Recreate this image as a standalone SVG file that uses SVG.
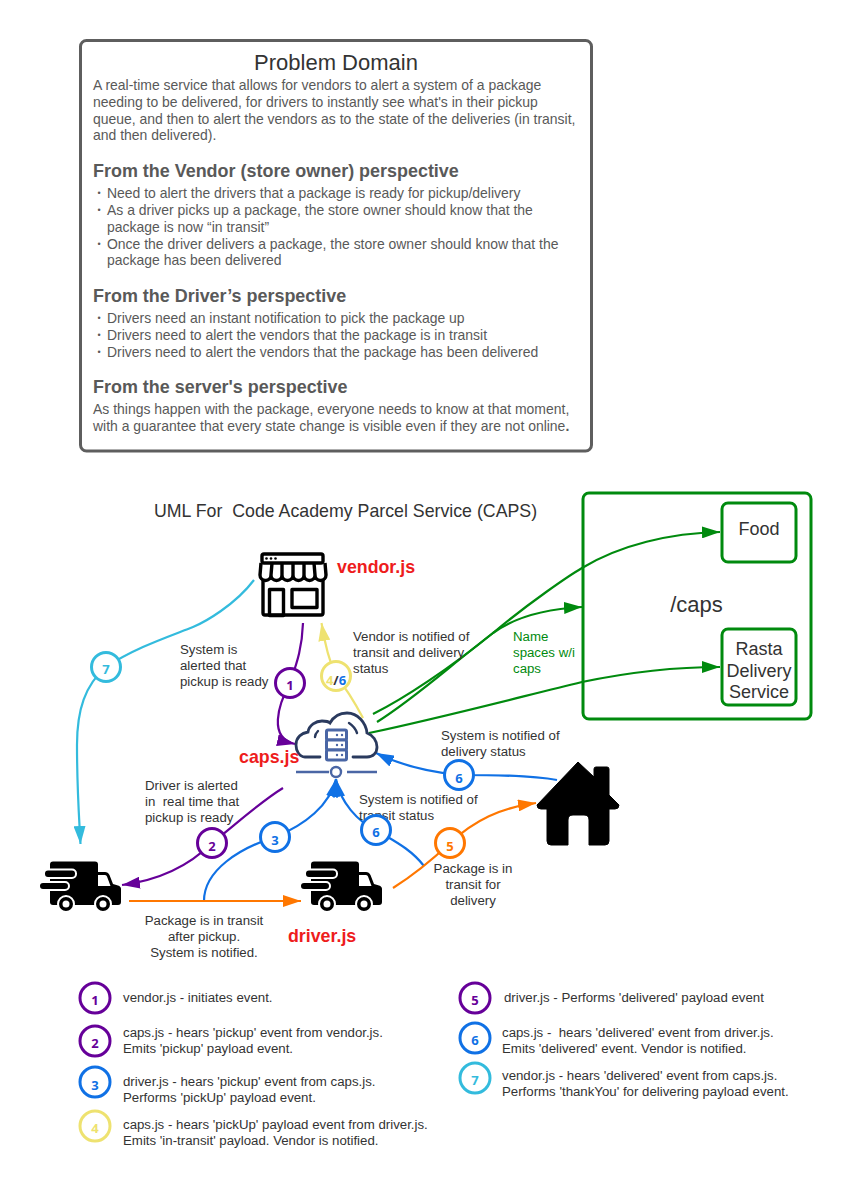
<svg xmlns="http://www.w3.org/2000/svg" width="851" height="1202" viewBox="0 0 851 1202">
<style>
text{font-family:"Liberation Sans",Arial,sans-serif;white-space:pre}
.b{font-size:13.96px;fill:#595959}
.d{font-size:9px;fill:#595959}
.h{font-size:17.95px;font-weight:bold;fill:#595959}
.l{font-size:13.25px;fill:#333}
.c{text-anchor:middle}
.r{font-size:17.8px;font-weight:bold;fill:#ee1c1c}
.n{font-family:"Open Sans","Liberation Sans",sans-serif;font-size:13px;font-weight:bold;text-anchor:middle}
.bd{fill:#fff;stroke-width:3}
.pu{stroke:#660099}.fpu{fill:#660099}
.bl{stroke:#1071e5}.fbl{fill:#1071e5}
.cy{stroke:#33bbdd}.fcy{fill:#33bbdd}
.ye{stroke:#eee270}.fye{fill:#eee270}
.or{stroke:#ff7700}.for{fill:#ff7700}
.gr{stroke:#008a0e}
</style>
<defs>
<marker id="apu" markerUnits="userSpaceOnUse" markerWidth="18" markerHeight="12" refX="18" refY="6" orient="auto"><path d="M0,0L18,6L0,12z" fill="#660099"/></marker>
<marker id="abl" markerUnits="userSpaceOnUse" markerWidth="18" markerHeight="12" refX="18" refY="6" orient="auto"><path d="M0,0L18,6L0,12z" fill="#1071e5"/></marker>
<marker id="acy" markerUnits="userSpaceOnUse" markerWidth="18" markerHeight="12" refX="18" refY="6" orient="auto"><path d="M0,0L18,6L0,12z" fill="#33bbdd"/></marker>
<marker id="aye" markerUnits="userSpaceOnUse" markerWidth="18" markerHeight="12" refX="18" refY="6" orient="auto"><path d="M0,0L18,6L0,12z" fill="#eee270"/></marker>
<marker id="aor" markerUnits="userSpaceOnUse" markerWidth="18" markerHeight="12" refX="18" refY="6" orient="auto"><path d="M0,0L18,6L0,12z" fill="#ff7700"/></marker>
<marker id="agr" markerUnits="userSpaceOnUse" markerWidth="18" markerHeight="12" refX="18" refY="6" orient="auto"><path d="M0,0L18,6L0,12z" fill="#008a0e"/></marker>
<g id="truck">
<rect x="50" y="861.500" width="48" height="43.500" rx="3"/>
<path d="M96,872H105Q108,872 109.500,875L113,884L118,885.500Q121,886.500 121,889V902Q121,905 118,905H96z"/>
<path d="M98,875H105Q106.500,875 107,876.500L110.500,886H98z" fill="#fff"/>
<rect x="44" y="869.500" width="32" height="8.500" rx="4" fill="#000" stroke="#fff" stroke-width="2"/>
<rect x="39" y="882" width="30" height="8" rx="4" fill="#000" stroke="#fff" stroke-width="2"/>
<g fill="#000" stroke="#fff" stroke-width="2"><circle cx="66" cy="904" r="8"/><circle cx="103" cy="904" r="8"/></g>
<circle cx="66" cy="904" r="3.500" fill="#fff"/><circle cx="103" cy="904" r="3.500" fill="#fff"/>
</g>
</defs>
<rect width="851" height="1202" fill="#fff"/>

<g id="problem-domain">
<rect x="80.500" y="40.500" width="511" height="410.500" rx="6" fill="#fff" stroke="#5e5e5e" stroke-width="3"/>
<text x="336" y="70" class="c" font-size="22" fill="#333">Problem Domain</text>
<text class="b" x="93" y="90">A real-time service that allows for vendors to alert a system of a package</text>
<text class="b" x="93" y="107">needing to be delivered, for drivers to instantly see what's in their pickup</text>
<text class="b" x="93" y="124">queue, and then to alert the vendors as to the state of the deliveries (in transit,</text>
<text class="b" x="93" y="140">and then delivered).</text>
<text class="h" x="93" y="177">From the Vendor (store owner) perspective</text>
<text class="d" x="97.500" y="196">•</text><text class="b" x="107" y="198">Need to alert the drivers that a package is ready for pickup/delivery</text>
<text class="d" x="97.500" y="213">•</text><text class="b" x="107" y="215">As a driver picks up a package, the store owner should know that the</text>
<text class="b" x="107" y="232">package is now “in transit”</text>
<text class="d" x="97.500" y="247">•</text><text class="b" x="107" y="249">Once the driver delivers a package, the store owner should know that the</text>
<text class="b" x="107" y="265">package has been delivered</text>
<text class="h" x="93" y="302">From the Driver’s perspective</text>
<text class="d" x="97.500" y="321">•</text><text class="b" x="107" y="323">Drivers need an instant notification to pick the package up</text>
<text class="d" x="97.500" y="338">•</text><text class="b" x="107" y="340">Drivers need to alert the vendors that the package is in transit</text>
<text class="d" x="97.500" y="355">•</text><text class="b" x="107" y="357">Drivers need to alert the vendors that the package has been delivered</text>
<text class="h" x="93" y="393">From the server's perspective</text>
<text class="b" x="93" y="414">As things happen with the package, everyone needs to know at that moment,</text>
<text class="b" x="93" y="431">with a guarantee that every state change is visible even if they are not online<tspan font-weight="bold">.</tspan></text>
</g>

<text id="uml-title" x="154" y="517" font-size="17.760" fill="#333">UML For  Code Academy Parcel Service (CAPS)</text>

<g id="caps-namespace">
<rect x="583" y="493" width="228" height="226" rx="6" fill="#fff" stroke="#008a0e" stroke-width="3"/>
<text x="696.500" y="612" class="c" font-size="22" fill="#333">/caps</text>
</g>
<g id="food">
<rect x="722" y="503" width="74" height="59" rx="6" fill="#fff" stroke="#008a0e" stroke-width="3"/>
<text x="759" y="535" class="c" font-size="18" fill="#333">Food</text>
</g>
<g id="rasta">
<rect x="722" y="629" width="74" height="76" rx="6" fill="#fff" stroke="#008a0e" stroke-width="3"/>
<text class="c" font-size="18" fill="#333"><tspan x="759" y="655">Rasta</tspan><tspan x="759" y="677">Delivery</tspan><tspan x="759" y="698">Service</tspan></text>
</g>

<g id="vendor">
<g fill="none" stroke="#000" stroke-width="3.400" stroke-linejoin="round">
<rect x="262" y="554" width="61" height="9" rx="2"/>
<path d="M263,580V613Q263,615 265,615H321Q323,615 323,613V580"/>
<path d="M261,563L260,575a5.500,5.500 0 0 0 11,0L272,563M271,575a5.500,5.500 0 0 0 11,0V563M282,575a5.500,5.500 0 0 0 11,0V563M293,575a5.500,5.500 0 0 0 11,0V563M304,575a5.500,5.500 0 0 0 11,0L314,563M315,575a5.500,5.500 0 0 0 11,0L325,563"/>
<rect x="269.500" y="589.500" width="14" height="26"/>
<rect x="292" y="589.500" width="25" height="18"/>
</g>
<g fill="#000"><circle cx="266.500" cy="558.500" r="1.300"/><circle cx="271" cy="558.500" r="1.300"/><circle cx="275.500" cy="558.500" r="1.300"/></g>
<text x="337" y="573" class="r">vendor.js</text>
</g>

<g id="connectors" fill="none" stroke-width="2.200">
<path class="pu" d="M303,623C302,650 296,665 290,683C278,705 268,738 295,744" marker-end="url(#apu)"/>
<path class="ye" d="M363,718C355,703 346,688 336,676C330,663 325,645 321.500,623" marker-end="url(#aye)"/>
<path class="cy" d="M254,580C235,605 205,622 193,627C165,638 135,648 106,667C85,685 77,710 77,745C77,790 79,815 80.500,844" marker-end="url(#acy)"/>
<path class="pu" d="M283,788C260,802 235,825 212,843C190,865 160,880 122,885" marker-end="url(#apu)"/>
<path class="bl" d="M204,901C204,870 240,848 275,837C305,825 330,805 336,779" marker-end="url(#abl)"/>
<path class="bl" d="M424,866C410,848 392,840 376,830C358,822 340,802 336,779" marker-end="url(#abl)"/>
<path class="bl" d="M557,780C530,775 490,775 459,775C430,772 400,765 376,753" marker-end="url(#abl)"/>
<path class="or" d="M129,901H301" marker-end="url(#aor)"/>
<path class="or" d="M393,888C412,876 432,860 450,843C475,820 500,808 536,803" marker-end="url(#aor)"/>
<path class="gr" d="M373,714C405,698 450,668 493,633C530,602 570,575 582,568C620,545 670,533 720,532" marker-end="url(#agr)"/>
<path class="gr" d="M377,722C415,698 445,670 493,633C515,617 545,609 582,607" marker-end="url(#agr)"/>
<path class="gr" d="M369,733C440,718 520,697 582,682C630,672 680,667 720,667" marker-end="url(#agr)"/>
</g>

<g id="caps">
<path d="M320,757H305C299,757 296,750 296,745C296,737 302,733 308,732C309,725 316,721 322,721C326,721 329,722 330,723C334,716 341,713 347,713C358,713 366,723 367,733C373,735 377,741 377,747C377,753 373,757 367,757H353" fill="#fff" stroke="#2a3a5e" stroke-width="2.800" stroke-linecap="round"/>
<path d="M318,731Q315,734 315,737M349,723Q355,727 357,733" fill="none" stroke="#2a3a5e" stroke-width="2.400" stroke-linecap="round"/>
<g fill="#fff" stroke="#4a66a5" stroke-width="3">
<rect x="326.500" y="730" width="20" height="10" rx="1.500"/><rect x="326.500" y="740" width="20" height="10" rx="1.500"/><rect x="326.500" y="750" width="20" height="10" rx="1.500"/>
</g>
<g fill="#4a66a5"><circle cx="337" cy="735" r="1.200"/><circle cx="342" cy="735" r="1.200"/><circle cx="337" cy="745" r="1.200"/><circle cx="342" cy="745" r="1.200"/><circle cx="337" cy="755" r="1.200"/><circle cx="342" cy="755" r="1.200"/></g>
<path d="M296,772H329M347,772H377" stroke="#4a66a5" stroke-width="2.400"/>
<circle cx="336" cy="772" r="5" fill="#fff" stroke="#4a66a5" stroke-width="2.400"/>
<text x="239" y="763" class="r">caps.js</text>
</g>

<g id="driver-left"><use href="#truck"/></g>
<g id="driver"><use href="#truck" x="261"/><text x="288" y="942" class="r">driver.js</text></g>

<g id="house">
<path d="M578,762L594,777V769Q594,767 596,767H607Q609,767 609,769V795L619,805Q619,809 615,809H609V841Q609,845 605,845H589V820Q589,815 584,815H573Q568,815 568,820V845H551Q547,845 547,841V809H541Q537,809 537,805z" stroke="#000" stroke-linejoin="round"/>
</g>

<g id="labels">
<text class="l"><tspan x="180" y="654">System is</tspan><tspan x="180" y="670">alerted that</tspan><tspan x="180" y="686">pickup is ready</tspan></text>
<text class="l"><tspan x="145" y="790">Driver is alerted</tspan><tspan x="145" y="806">in  real time that</tspan><tspan x="145" y="822">pickup is ready</tspan></text>
<text class="l"><tspan x="353" y="641">Vendor is notified of</tspan><tspan x="353" y="657">transit and delivery</tspan><tspan x="353" y="673">status</tspan></text>
<text class="l"><tspan x="441" y="740">System is notified of</tspan><tspan x="441" y="756">delivery status</tspan></text>
<text class="l"><tspan x="359" y="804">System is notified of</tspan><tspan x="359" y="820">transit status</tspan></text>
<text class="l c"><tspan x="473" y="873">Package is in</tspan><tspan x="473" y="889">transit for</tspan><tspan x="473" y="905">delivery</tspan></text>
<text class="l c"><tspan x="204" y="925">Package is in transit</tspan><tspan x="204" y="941">after pickup.</tspan><tspan x="204" y="957">System is notified.</tspan></text>
<text class="l" style="fill:#008a0e"><tspan x="513" y="641">Name</tspan><tspan x="513" y="657">spaces w/i</tspan><tspan x="513" y="673">caps</tspan></text>
</g>

<g id="badges">
<g id="b1"><circle class="bd pu" cx="290" cy="683" r="14.500"/><text class="n fpu" x="290" y="689.500">1</text></g>
<g id="b46"><circle class="bd ye" cx="336" cy="676" r="14.500"/><text class="n" x="336" y="685"><tspan class="fye">4</tspan><tspan fill="#333">/</tspan><tspan class="fbl">6</tspan></text></g>
<g id="b7"><circle class="bd cy" cx="106" cy="667" r="14.500"/><text class="n fcy" x="106" y="674">7</text></g>
<g id="b2"><circle class="bd pu" cx="212" cy="843" r="14.500"/><text class="n fpu" x="212" y="851">2</text></g>
<g id="b3"><circle class="bd bl" cx="275" cy="837" r="14.500"/><text class="n fbl" x="275" y="845">3</text></g>
<g id="b6a"><circle class="bd bl" cx="376" cy="830" r="14.500"/><text class="n fbl" x="376" y="837">6</text></g>
<g id="b6b"><circle class="bd bl" cx="459" cy="775" r="14.500"/><text class="n fbl" x="459" y="782.500">6</text></g>
<g id="b5"><circle class="bd or" cx="450" cy="843" r="14.500"/><text class="n for" x="450" y="851">5</text></g>
</g>

<g id="legend">
<g id="legend-1"><circle class="bd pu" cx="95" cy="998" r="15"/><text class="n fpu" x="95" y="1005">1</text><text class="l" x="123" y="1002">vendor.js - initiates event.</text></g>
<g id="legend-2"><circle class="bd pu" cx="95" cy="1041" r="15"/><text class="n fpu" x="95" y="1048">2</text><text class="l"><tspan x="123" y="1037">caps.js - hears 'pickup' event from vendor.js.</tspan><tspan x="123" y="1053">Emits 'pickup' payload event.</tspan></text></g>
<g id="legend-3"><circle class="bd bl" cx="95" cy="1082" r="15"/><text class="n fbl" x="95" y="1090">3</text><text class="l"><tspan x="123" y="1086">driver.js - hears 'pickup' event from caps.js.</tspan><tspan x="123" y="1102">Performs 'pickUp' payload event.</tspan></text></g>
<g id="legend-4"><circle class="bd ye" cx="95" cy="1126" r="15"/><text class="n fye" x="95" y="1133">4</text><text class="l"><tspan x="123" y="1129">caps.js - hears 'pickUp' payload event from driver.js.</tspan><tspan x="123" y="1145">Emits 'in-transit' payload. Vendor is notified.</tspan></text></g>
<g id="legend-5"><circle class="bd pu" cx="475" cy="998" r="15"/><text class="n fpu" x="475" y="1005">5</text><text class="l" x="504" y="1002">driver.js - Performs 'delivered' payload event</text></g>
<g id="legend-6"><circle class="bd bl" cx="475" cy="1038" r="15"/><text class="n fbl" x="475" y="1045">6</text><text class="l"><tspan x="502" y="1037">caps.js -  hears 'delivered' event from driver.js.</tspan><tspan x="502" y="1053">Emits 'delivered' event. Vendor is notified.</tspan></text></g>
<g id="legend-7"><circle class="bd cy" cx="475" cy="1078" r="15"/><text class="n fcy" x="475" y="1085">7</text><text class="l"><tspan x="502" y="1080">vendor.js - hears 'delivered' event from caps.js.</tspan><tspan x="502" y="1096">Performs 'thankYou' for delivering payload event.</tspan></text></g>
</g>
</svg>
